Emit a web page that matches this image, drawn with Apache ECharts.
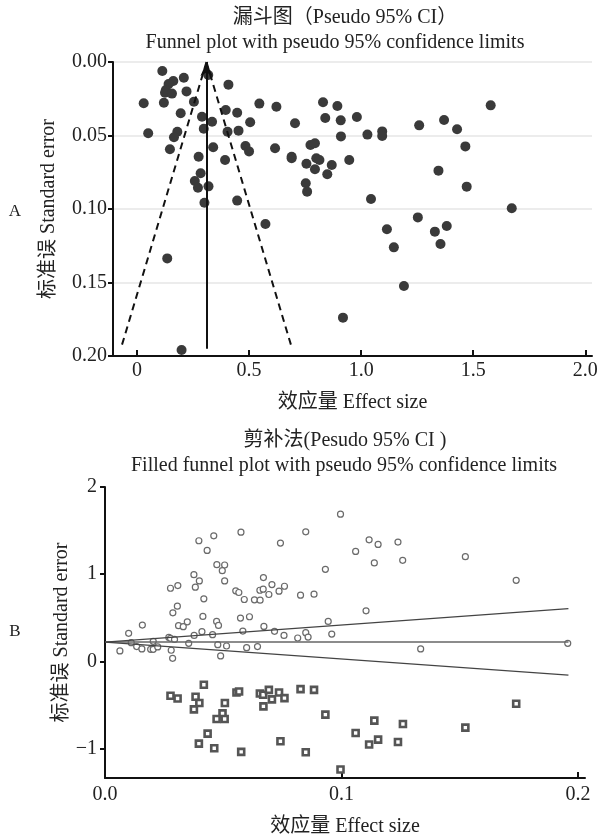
<!DOCTYPE html>
<html>
<head>
<meta charset="utf-8">
<script src="https://cdn.jsdelivr.net/npm/echarts@6/dist/echarts.min.js"></script>
<style>
  html, body { margin: 0; padding: 0; background: #fff; }
  #chart { width: 602px; height: 838px; }
</style>
</head>
<body>
<div id="chart"></div>
<script>
// A: funnel plot, [effect size, standard error]
var funnelPoints = [
  [0.113,0.0061],[0.030,0.0281],[0.050,0.0485],[0.120,0.0277],[0.162,0.0129],[0.141,0.0150],
  [0.129,0.0190],[0.125,0.0209],[0.156,0.0215],[0.209,0.0107],[0.221,0.0200],[0.195,0.0349],
  [0.147,0.0594],[0.180,0.0474],[0.165,0.0512],[0.254,0.0270],[0.290,0.0372],[0.298,0.0454],
  [0.318,0.0088],[0.335,0.0406],[0.408,0.0154],[0.396,0.0327],[0.447,0.0345],[0.404,0.0474],
  [0.453,0.0467],[0.505,0.0410],[0.546,0.0283],[0.622,0.0304],[0.340,0.0580],[0.275,0.0644],
  [0.393,0.0667],[0.484,0.0571],[0.500,0.0608],[0.284,0.0757],[0.258,0.0810],[0.272,0.0855],
  [0.319,0.0846],[0.301,0.0957],[0.447,0.0943],[0.616,0.0587],[0.705,0.0417],[0.690,0.0644],
  [0.690,0.0655],[0.756,0.0692],[0.774,0.0565],[0.794,0.0553],[0.800,0.0655],[0.814,0.0667],
  [0.794,0.0730],[0.753,0.0825],[0.759,0.0882],[0.849,0.0764],[0.869,0.0701],[0.830,0.0274],
  [0.840,0.0381],[0.894,0.0299],[0.909,0.0397],[0.981,0.0374],[0.910,0.0506],[1.028,0.0494],
  [1.094,0.0472],[1.094,0.0503],[0.947,0.0667],[1.044,0.0932],[1.253,0.1057],[1.259,0.0431],
  [1.370,0.0395],[1.428,0.0458],[1.465,0.0574],[1.345,0.0739],[1.471,0.0848],[1.578,0.0295],
  [1.672,0.0995],[1.115,0.1138],[1.146,0.1261],[1.329,0.1154],[1.382,0.1116],[1.354,0.1238],
  [1.191,0.1524],[0.919,0.1739],[0.573,0.1102],[0.135,0.1336],[0.199,0.1959]
];
var pooledEffect = 0.31;
var funnelBottomSE = 0.195;
var funnelLimits = [-0.072, 0.692];
var topXTicks = [0, 0.5, 1, 1.5, 2];
var topXLabels = ['0', '0.5', '1.0', '1.5', '2.0'];
var topYTicks = [0, 0.05, 0.1, 0.15, 0.2];

// B: trim and fill
var observedPoints = [
  [0.0996,1.688],[0.0397,1.383],[0.0460,1.440],[0.0575,1.482],[0.0849,1.486],[0.0432,1.272],
  [0.0742,1.356],[0.0473,1.109],[0.0506,1.105],[0.0496,1.040],[0.0376,0.994],[0.0399,0.922],
  [0.0506,0.922],[0.0382,0.850],[0.0277,0.838],[0.0308,0.869],[0.0670,0.960],[0.0706,0.880],
  [0.0759,0.861],[0.0553,0.808],[0.0566,0.789],[0.0655,0.815],[0.0669,0.827],[0.0736,0.804],
  [0.0693,0.766],[0.0589,0.709],[0.0632,0.705],[0.0656,0.701],[0.0418,0.716],[0.0827,0.758],
  [0.0884,0.770],[0.0932,1.055],[0.0306,0.632],[0.0287,0.556],[0.0158,0.415],[0.0100,0.320],
  [0.0311,0.408],[0.0331,0.397],[0.0348,0.453],[0.0414,0.514],[0.0472,0.457],[0.0480,0.411],
  [0.0573,0.495],[0.0611,0.511],[0.0672,0.400],[0.0583,0.346],[0.0410,0.339],[0.0377,0.297],
  [0.0455,0.305],[0.0270,0.274],[0.0277,0.263],[0.0294,0.251],[0.0354,0.206],[0.0477,0.190],
  [0.0514,0.175],[0.0599,0.156],[0.0645,0.168],[0.0717,0.343],[0.0757,0.297],[0.0815,0.267],
  [0.0849,0.328],[0.0859,0.278],[0.0944,0.457],[0.0959,0.312],[0.0063,0.118],[0.0111,0.213],
  [0.0134,0.168],[0.0156,0.141],[0.0193,0.137],[0.0204,0.137],[0.0204,0.229],[0.0223,0.164],
  [0.0280,0.126],[0.0286,0.034],[0.0489,0.061],[0.1117,1.394],[0.1155,1.341],[0.1239,1.368],
  [0.1060,1.261],[0.1139,1.128],[0.1259,1.158],[0.1524,1.200],[0.1739,0.929],[0.1104,0.579],
  [0.1335,0.141],[0.1957,0.206]
];
var filledPoints = [
  [0.0277,-0.396],[0.0307,-0.427],[0.0418,-0.270],[0.0383,-0.408],[0.0399,-0.480],[0.0376,-0.552],
  [0.0507,-0.480],[0.0497,-0.598],[0.0472,-0.663],[0.0506,-0.663],[0.0434,-0.831],[0.0397,-0.945],
  [0.0462,-0.998],[0.0576,-1.040],[0.0556,-0.358],[0.0567,-0.347],[0.0655,-0.370],[0.0669,-0.385],
  [0.0693,-0.328],[0.0706,-0.438],[0.0736,-0.358],[0.0759,-0.423],[0.0670,-0.518],[0.0827,-0.320],
  [0.0884,-0.328],[0.0932,-0.613],[0.0742,-0.918],[0.0849,-1.044],[0.0996,-1.242],[0.1139,-0.682],
  [0.1260,-0.720],[0.1060,-0.823],[0.1117,-0.956],[0.1155,-0.899],[0.1239,-0.926],[0.1524,-0.762],
  [0.1739,-0.488]
];
var pooledLine = [[0, 0.22], [0.196, 0.22]];
var upperLine = [[0, 0.22], [0.196, 0.605]];
var lowerLine = [[0, 0.22], [0.196, -0.16]];
var bottomXTicks = [0, 0.1, 0.2];
var bottomXLabels = ['0.0', '0.1', '0.2'];
var bottomYTicks = [-1, 0, 1, 2];

var serif = "'Liberation Serif', 'Noto Sans CJK SC', serif";
var axisText = { color: '#222', fontFamily: serif, fontSize: 20 };
var nameText = { color: '#222', fontFamily: serif, fontSize: 20 };

function txt(x, y, text, size) {
  return {
    type: 'text', x: x, y: y,
    style: { text: text, fill: '#222', font: size + 'px ' + serif, textAlign: 'center', textVerticalAlign: 'middle' }
  };
}

var myChart = echarts.init(document.getElementById('chart'));

var option = {
  backgroundColor: '#fff',
  animation: false,
  graphic: [
    txt(345, 18, '漏斗图（Pseudo 95% CI）', 20),
    txt(335, 43, 'Funnel plot with pseudo 95% confidence limits', 20),
    txt(15, 212, 'A', 17),
    txt(345, 441, '剪补法(Pesudo 95% CI )', 20),
    txt(344, 466, 'Filled funnel plot with pseudo 95% confidence limits', 20),
    txt(15, 632, 'B', 17)
  ],
  grid: [
    { left: 113, right: 10, top: 62, height: 294 },
    { left: 105, right: 17, top: 487, bottom: 59 }
  ],
  xAxis: [
    {
      gridIndex: 0, type: 'value', min: -0.107, max: 2.03,
      name: '效应量 Effect size', nameLocation: 'middle', nameGap: 37, nameTextStyle: nameText,
      axisLine: { onZero: false, lineStyle: { color: '#111', width: 2 } },
      axisTick: { show: true, inside: true, length: 6, lineStyle: { color: '#111', width: 2 }, customValues: topXTicks },
      axisLabel: Object.assign({ margin: 5, customValues: topXTicks, formatter: function (v) { return topXLabels[topXTicks.indexOf(v)]; } }, axisText),
      splitLine: { show: false }
    },
    {
      gridIndex: 1, type: 'value', min: 0, max: 0.203,
      name: '效应量 Effect size', nameLocation: 'middle', nameGap: 39, nameTextStyle: nameText,
      axisLine: { onZero: false, lineStyle: { color: '#111', width: 2 } },
      axisTick: { show: true, inside: true, length: 6, lineStyle: { color: '#111', width: 2 }, customValues: bottomXTicks },
      axisLabel: Object.assign({ margin: 7, customValues: bottomXTicks, formatter: function (v) { return bottomXLabels[bottomXTicks.indexOf(v)]; } }, axisText),
      splitLine: { show: false }
    }
  ],
  yAxis: [
    {
      gridIndex: 0, type: 'value', min: 0, max: 0.2, inverse: true,
      name: '标准误 Standard error', nameLocation: 'middle', nameGap: 54, nameRotate: 90, nameTextStyle: nameText,
      nameMoveOverlap: false,
      axisLine: { show: true, onZero: false, lineStyle: { color: '#111', width: 2 } },
      axisTick: { show: true, length: 5, lineStyle: { color: '#111', width: 2 }, customValues: topYTicks },
      axisLabel: Object.assign({ margin: 6, customValues: topYTicks, formatter: function (v) { return v.toFixed(2); } }, axisText),
      splitLine: { show: true, lineStyle: { color: '#ececec', width: 2 } }
    },
    {
      gridIndex: 1, type: 'value', min: -1.34, max: 2,
      name: '标准误 Standard error', nameLocation: 'middle', nameGap: 33, nameRotate: 90, nameTextStyle: nameText,
      nameMoveOverlap: false,
      axisLine: { show: true, onZero: false, lineStyle: { color: '#111', width: 2 } },
      axisTick: { show: true, length: 5, lineStyle: { color: '#111', width: 2 }, customValues: bottomYTicks },
      axisLabel: Object.assign({ margin: 8, customValues: bottomYTicks, formatter: function (v) { return v < 0 ? '\u2212' + (-v) : String(v); } }, axisText),
      splitLine: { show: false }
    }
  ],
  series: [
    {
      type: 'scatter', xAxisIndex: 0, yAxisIndex: 0,
      data: funnelPoints, symbolSize: 10,
      itemStyle: { color: '#3a3a3a', opacity: 1 },
      markLine: {
        silent: true, animation: false, label: { show: false },
        data: [
          [{ coord: [pooledEffect, funnelBottomSE], symbol: 'none' }, { coord: [pooledEffect, 0], symbol: 'arrow', symbolSize: [9, 14], lineStyle: { color: '#111', width: 2, type: 'solid' } }],
          [{ coord: [pooledEffect, 0], symbol: 'none' }, { coord: [funnelLimits[0], funnelBottomSE], symbol: 'none', lineStyle: { color: '#111', width: 2, type: [7, 5] } }],
          [{ coord: [pooledEffect, 0], symbol: 'none' }, { coord: [funnelLimits[1], funnelBottomSE], symbol: 'none', lineStyle: { color: '#111', width: 2, type: [7, 5] } }]
        ]
      }
    },
    {
      type: 'line', xAxisIndex: 1, yAxisIndex: 1, data: pooledLine, symbol: 'none',
      lineStyle: { color: '#666', width: 1.5 }
    },
    {
      type: 'line', xAxisIndex: 1, yAxisIndex: 1, data: upperLine, symbol: 'none',
      lineStyle: { color: '#444', width: 1.2 }
    },
    {
      type: 'line', xAxisIndex: 1, yAxisIndex: 1, data: lowerLine, symbol: 'none',
      lineStyle: { color: '#444', width: 1.2 }
    },
    {
      type: 'scatter', xAxisIndex: 1, yAxisIndex: 1,
      data: observedPoints, symbol: 'circle', symbolSize: 6,
      itemStyle: { color: '#fff', borderColor: '#6a6a6a', borderWidth: 1.2, opacity: 1 }
    },
    {
      type: 'scatter', xAxisIndex: 1, yAxisIndex: 1,
      data: filledPoints, symbol: 'rect', symbolSize: 6,
      itemStyle: { color: '#fff', borderColor: '#555', borderWidth: 2.6, opacity: 1 }
    }
  ]
};

myChart.setOption(option);
</script>
</body>
</html>
